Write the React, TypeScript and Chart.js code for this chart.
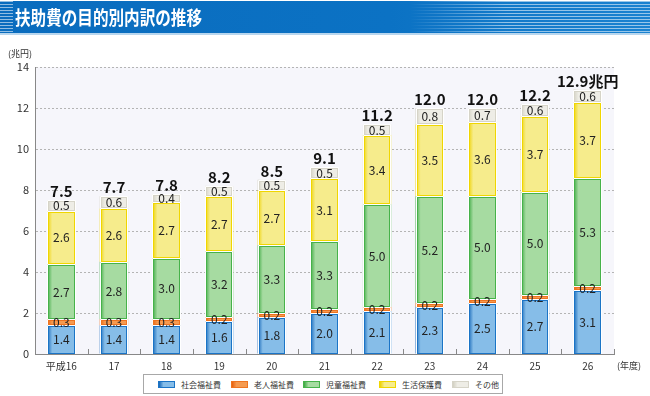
import React, { useEffect, useRef } from 'react';
import { Chart, registerables } from 'chart.js';

Chart.register(...registerables);

const FONT = '"Noto Sans CJK JP", "Noto Sans", sans-serif';

const years = ['平成16', '17', '18', '19', '20', '21', '22', '23', '24', '25', '26'];
const seriesNames = ['社会福祉費', '老人福祉費', '児童福祉費', '生活保護費', 'その他'];
const social = [1.4, 1.4, 1.4, 1.6, 1.8, 2.0, 2.1, 2.3, 2.5, 2.7, 3.1];
const elderly = [0.3, 0.3, 0.3, 0.2, 0.2, 0.2, 0.2, 0.2, 0.2, 0.2, 0.2];
const child = [2.7, 2.8, 3.0, 3.2, 3.3, 3.3, 5.0, 5.2, 5.0, 5.0, 5.3];
const livelihood = [2.6, 2.6, 2.7, 2.7, 2.7, 3.1, 3.4, 3.5, 3.6, 3.7, 3.7];
const other = [0.5, 0.6, 0.4, 0.5, 0.5, 0.5, 0.5, 0.8, 0.7, 0.6, 0.6];
const totals = [7.5, 7.7, 7.8, 8.2, 8.5, 9.1, 11.2, 12.0, 12.0, 12.2, 12.9];
const totalUnit = '兆円';
const yUnit = '(兆円)';
const xUnit = '(年度)';

const palette = [
  { dark: '#1366b8', light: '#86bde8', border: '#1b74c6' },
  { dark: '#e8600c', light: '#f59a50', border: '#ee7420' },
  { dark: '#3aa83f', light: '#a6dba1', border: '#46b24a' },
  { dark: '#eed200', light: '#f6ec8c', border: '#f0d600' },
  { dark: '#d2d0c2', light: '#eeede6', border: '#d6d4c8' },
];

const BAR_PCT = 0.54;

function makeFill(idx: number) {
  return (ctx: any) => {
    const chart = ctx.chart;
    const xs = chart.scales?.x;
    if (!chart.chartArea || !xs) return palette[idx].light;
    const cx = xs.getPixelForValue(ctx.dataIndex);
    const w = (xs.width / years.length) * BAR_PCT;
    const g = chart.ctx.createLinearGradient(cx - w / 2, 0, cx + w / 2, 0);
    g.addColorStop(0, palette[idx].dark);
    g.addColorStop(0.18, palette[idx].light);
    g.addColorStop(1, palette[idx].light);
    return g;
  };
}

const decor = {
  id: 'decor',
  beforeDraw(chart: any) {
    const { ctx, chartArea: a } = chart;
    ctx.save();
    ctx.fillStyle = '#f6f6fb';
    ctx.fillRect(a.left, a.top, a.right - a.left, a.bottom - a.top);
    ctx.restore();
  },
  afterDatasetsDraw(chart: any) {
    const { ctx, chartArea: a } = chart;
    const xs = chart.scales.x;
    ctx.save();
    // outlines
    chart.data.datasets.forEach((ds: any, di: number) => {
      const meta = chart.getDatasetMeta(di);
      meta.data.forEach((el: any) => {
        const p = el.getProps(['x', 'y', 'base', 'width'], true);
        const L = Math.round(p.x - p.width / 2);
        const R = Math.round(p.x + p.width / 2);
        const T = Math.round(Math.min(p.y, p.base));
        const B = Math.round(Math.max(p.y, p.base));
        ctx.lineWidth = 1;
        ctx.strokeStyle = palette[di].border;
        ctx.strokeRect(L + 1.5, T + 1.5, R - L - 3, B - T - 2);
        ctx.strokeStyle = '#ffffff';
        ctx.beginPath();
        ctx.moveTo(L + 0.5, B);
        ctx.lineTo(L + 0.5, T + 0.5);
        ctx.lineTo(R - 0.5, T + 0.5);
        ctx.lineTo(R - 0.5, B);
        ctx.stroke();
      });
    });
    // segment labels
    ctx.fillStyle = '#222';
    ctx.font = `12px ${FONT}`;
    ctx.textAlign = 'center';
    ctx.textBaseline = 'middle';
    chart.data.datasets.forEach((ds: any, di: number) => {
      const meta = chart.getDatasetMeta(di);
      meta.data.forEach((el: any, i: number) => {
        const p = el.getProps(['x', 'y', 'base'], true);
        ctx.fillText(ds.data[i].toFixed(1), p.x, (p.y + p.base) / 2 + 0.5);
      });
    });
    // totals
    const topMeta = chart.getDatasetMeta(chart.data.datasets.length - 1);
    ctx.font = `bold 15px ${FONT}`;
    ctx.fillStyle = '#111';
    ctx.textBaseline = 'alphabetic';
    topMeta.data.forEach((el: any, i: number) => {
      const p = el.getProps(['x', 'y'], true);
      const txt = totals[i].toFixed(1) + (i === totals.length - 1 ? totalUnit : '');
      ctx.fillText(txt, p.x, p.y - 3);
    });
    // category boundary ticks
    ctx.strokeStyle = '#888';
    ctx.lineWidth = 1;
    for (let i = 1; i <= years.length; i++) {
      const x = Math.round(xs.getPixelForValue(i - 0.5)) + 0.5;
      ctx.beginPath();
      ctx.moveTo(x, a.bottom);
      ctx.lineTo(x, a.bottom - 5);
      ctx.stroke();
    }
    // unit labels
    ctx.fillStyle = '#333';
    ctx.font = `9px ${FONT}`;
    ctx.textBaseline = 'middle';
    ctx.textAlign = 'left';
    ctx.fillText(yUnit, 8, 54);
    ctx.fillText(xUnit, 617, 366);
    ctx.restore();
  },
};

function Legend() {
  const xs = [157, 230, 302, 378, 451];
  return (
    <div
      style={{
        position: 'absolute',
        left: 143,
        top: 374,
        width: 360,
        height: 20,
        border: '1px solid #a8a8a8',
        background: '#fff',
        boxSizing: 'border-box',
      }}
    >
      {seriesNames.map((n, i) => (
        <div
          key={n}
          style={{
            position: 'absolute',
            left: xs[i] - 143,
            top: 0,
            height: 18,
            display: 'flex',
            alignItems: 'center',
          }}
        >
          <span
            style={{
              display: 'inline-block',
              width: 15,
              height: 5,
              border: `1px solid ${palette[i].border}`,
              background: `linear-gradient(to right, ${palette[i].dark}, ${palette[i].light} 30%, ${palette[i].light})`,
            }}
          />
          <span
            style={{
              marginLeft: 6,
              fontSize: 8,
              fontFamily: FONT,
              color: '#333',
              whiteSpace: 'nowrap',
            }}
          >
            {n}
          </span>
        </div>
      ))}
    </div>
  );
}

function Title() {
  const stripes =
    'repeating-linear-gradient(to bottom, rgba(255,255,255,0.55) 0px, rgba(255,255,255,0.55) 1px, rgba(255,255,255,0) 1px, rgba(255,255,255,0) 3px)';
  return (
    <div style={{ position: 'absolute', left: 0, top: 0, width: 650, height: 36 }}>
      <div
        style={{
          position: 'absolute',
          left: 0,
          top: 1,
          width: 650,
          height: 32,
          background: 'linear-gradient(to right, #0a6cbe, #0b72c4 60%, #1a82d0)',
        }}
      />
      <div style={{ position: 'absolute', left: 0, top: 1, width: 13, height: 32, background: stripes }} />
      <div
        style={{
          position: 'absolute',
          left: 410,
          top: 1,
          width: 240,
          height: 32,
          background: stripes,
          WebkitMaskImage: 'linear-gradient(to right, transparent, black 40%)',
          maskImage: 'linear-gradient(to right, transparent, black 40%)',
        }}
      />
      <div style={{ position: 'absolute', left: 0, top: 33, width: 650, height: 2, background: '#b8d6ee' }} />
      <div
        style={{
          position: 'absolute',
          left: 15,
          top: 3,
          height: 28,
          lineHeight: '28px',
          color: '#fff',
          fontFamily: FONT,
          fontWeight: 700,
          fontSize: 19,
          whiteSpace: 'nowrap',
          transform: 'scaleX(0.82)',
          transformOrigin: 'left center',
        }}
      >
        扶助費の目的別内訳の推移
      </div>
    </div>
  );
}

export default function App() {
  const ref = useRef<HTMLCanvasElement>(null);
  useEffect(() => {
    if (!ref.current) return;
    const data = [social, elderly, child, livelihood, other];
    const chart = new Chart(ref.current, {
      type: 'bar',
      data: {
        labels: years,
        datasets: data.map((d, i) => ({
          label: seriesNames[i],
          data: d,
          backgroundColor: makeFill(i),
          borderWidth: 0,
          barPercentage: BAR_PCT,
          categoryPercentage: 1,
        })),
      },
      options: {
        responsive: false,
        animation: false,
        layout: { padding: { top: 67, right: 36, bottom: 0, left: 0 } },
        plugins: { legend: { display: false }, tooltip: { enabled: false } },
        scales: {
          x: {
            stacked: true,
            grid: { display: false, drawTicks: false },
            border: { color: '#888' },
            ticks: {
              color: '#333',
              font: { size: 10, family: FONT },
              padding: 6,
              maxRotation: 0,
              autoSkip: false,
            },
            afterFit: (s: any) => {
              s.height = 42;
            },
          },
          y: {
            stacked: true,
            min: 0,
            max: 14,
            ticks: {
              stepSize: 2,
              color: '#333',
              font: { size: 11, family: FONT },
              padding: 6,
            },
            grid: {
              drawTicks: false,
              color: (c: any) => (c.tick && c.tick.value === 0 ? 'rgba(0,0,0,0)' : '#b4b4b4'),
            },
            border: { color: '#888', dash: [2, 2] },
            afterFit: (s: any) => {
              s.width = 35;
            },
          },
        },
      },
      plugins: [decor],
    });
    return () => chart.destroy();
  }, []);
  return (
    <div style={{ position: 'absolute', left: 0, top: 0, width: 650, height: 396, background: '#fff', overflow: 'hidden' }}>
      <canvas ref={ref} width={650} height={396} style={{ position: 'absolute', left: 0, top: 0 }} />
      <Title />
      <Legend />
    </div>
  );
}
